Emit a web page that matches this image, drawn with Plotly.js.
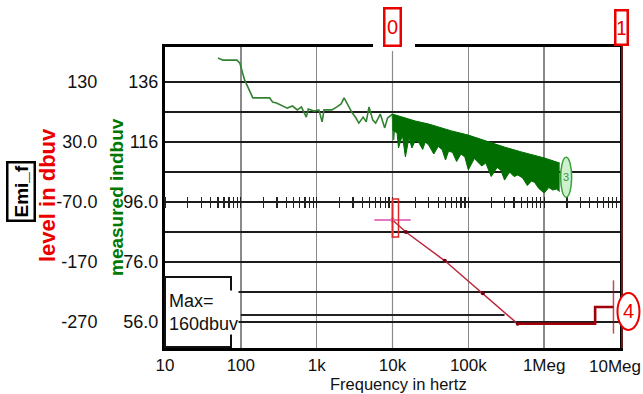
<!DOCTYPE html>
<html>
<head>
<meta charset="utf-8">
<script src="https://cdn.plot.ly/plotly-3.0.1.min.js"></script>
<style>
  html, body { margin: 0; padding: 0; background: #fff; }
  #chart { width: 643px; height: 394px; }
</style>
</head>
<body>
<div id="chart"></div>
<script>
// Measured emission, low-frequency part (Hz, dBuV on the "measured" axis)
const measuredFreq = [50, 58, 89, 97, 112, 144, 240, 263, 295, 410, 480, 555, 630, 730, 775, 925,
  1070, 1180, 1250, 1590, 1850, 2100, 2300, 2500, 2900, 3300, 3600, 4100, 4500, 4900, 5500,
  6000, 6600, 6900, 7900, 8600, 10000, 10300, 11000];
const measuredLevel = [144, 143.3, 143.3, 142.3, 136.7, 130.7, 130.7, 129.3, 129, 127.3, 128, 126.7,
  127.7, 124.3, 127, 126.3, 126.7, 122.7, 126.7, 126.7, 127.7, 128.7, 130.7, 129, 126, 124, 122.3,
  124.3, 122.7, 127.7, 123.3, 122.3, 124.3, 125.3, 120.7, 124, 125.3, 116.7, 124.7];

// Dense high-frequency part: upper and lower envelope of the measured spectrum
const bandTopFreq = [10000, 12000, 15000, 20000, 30000, 40000, 60000, 100000, 200000, 300000,
  500000, 1000000, 1600000];
const bandTopLevel = [125.3, 124.7, 124, 123, 122, 121, 119.7, 118.3, 115.7, 114.3, 112.7, 110.7, 109];
const bandBottomFreq = [10000, 11500, 12000, 13500, 14800, 16500, 18000, 20000, 22000, 25000, 27000,
  30000, 35000, 40000, 45000, 50000, 55000, 62000, 70000, 80000, 90000, 100000, 120000, 150000,
  170000, 200000, 240000, 270000, 300000, 350000, 400000, 450000, 520000, 600000, 680000, 750000,
  850000, 1000000, 1150000, 1300000, 1450000, 1600000];
const bandBottomLevel = [120, 119, 114, 118.3, 111, 117.5, 114, 116.5, 116, 113.5, 116, 115, 112,
  114.5, 113.5, 110, 113, 112.5, 109.5, 112, 111, 106.7, 110.5, 108, 109, 104.5, 107.5, 106.5,
  103.3, 106, 104.5, 105, 104, 101.5, 103, 102.5, 100.5, 99, 100.8, 100, 100.3, 99.5];

// Level in dBuV (red axis): sloped segment and flat segment
const levelSlopeFreq = [10000, 15000, 49000, 155000, 447000];
const levelSlopeValue = [-100, -120, -168, -222, -273];
const levelFlatFreq = [447000, 4700000, 4700000, 8200000];
const levelFlatValue = [-273, -273, -245, -245];

// Leader from the "Max=" box
const leaderFreq = [100, 300000];
const leaderLevel = [58.3, 58.3];

// Cursors
const cursorFreq = [10000, 10000000];
const cursorLabels = ['0', '1'];

// Axis ticks (the last frequency label is placed separately so it stays inside the page)
const freqTicks = [10, 100, 1e3, 1e4, 1e5, 1e6, 1e7];
const freqTickText = ['10', '100', '1k', '10k', '100k', '1Meg', '10Meg'];
const measuredTicks = [56, 66, 76, 86, 96, 106, 116, 126, 136];
const measuredTickText = ['56.0', '', '76.0', '', '96.0', '', '116', '', '136'];
const levelTicks = [-270, -170, -70, 30, 130];
const levelTickText = ['-270', '-170', '-70.0', '30.0', '130'];
const minorMultipliers = [1, 2, 3, 4, 5, 6, 7, 8, 9];

const minorFreqTicks = [];
for (let d = 1; d < 7; d++) {
  for (const m of minorMultipliers) minorFreqTicks.push(m * Math.pow(10, d));
}

// Plot-area geometry helpers (pixels -> paper fractions)
const W = 620, H = 301, TOP = 47;
const px = (x) => x / W;
const py = (y) => (TOP + H - y) / H;

const FONT = 'Liberation Sans, Arial, sans-serif';
const GREEN = 'rgb(0,120,0)';
const RED = 'rgb(235,0,0)';

const xDomain = [px(165), 1];
const xRange = [1, 7];
const levelRange = [-313.33, 188.33];

// data -> paper helpers for marks that sit partly outside the plot area
const freqToPaper = (f) => xDomain[0] + (Math.log10(f) - xRange[0]) / (xRange[1] - xRange[0]) * (xDomain[1] - xDomain[0]);
const levelToPaper = (v) => (v - levelRange[0]) / (levelRange[1] - levelRange[0]);

const bandEndFreq = bandTopFreq[bandTopFreq.length - 1];
const bandEndLevel = (bandTopLevel[bandTopLevel.length - 1] + bandBottomLevel[bandBottomLevel.length - 1]) / 2;
const levelEndFreq = levelFlatFreq[levelFlatFreq.length - 1];
const levelEndValue = levelFlatValue[levelFlatValue.length - 1];

const lastTick = freqTicks.length - 1;
const axisTickText = freqTickText.map((t, i) => (i === lastTick ? '' : t));

const traces = [
  {
    x: measuredFreq, y: measuredLevel, xaxis: 'x', yaxis: 'y',
    mode: 'lines', line: { color: 'rgb(50,130,50)', width: 1.6 }
  },
  {
    x: bandTopFreq, y: bandTopLevel, xaxis: 'x', yaxis: 'y',
    mode: 'lines', line: { color: 'rgb(0,110,0)', width: 1 }
  },
  {
    x: bandBottomFreq, y: bandBottomLevel, xaxis: 'x', yaxis: 'y',
    mode: 'lines', fill: 'tonexty', fillcolor: 'rgb(0,110,0)',
    line: { color: 'rgb(0,110,0)', width: 1 }
  },
  {
    x: leaderFreq, y: leaderLevel, xaxis: 'x', yaxis: 'y',
    mode: 'lines', line: { color: '#222', width: 2 }
  },
  {
    x: levelSlopeFreq, y: levelSlopeValue, xaxis: 'x', yaxis: 'y2',
    mode: 'lines+markers',
    line: { color: 'rgb(190,40,60)', width: 1.5 },
    marker: { color: 'rgb(110,0,20)', size: 4 }
  },
  {
    x: levelFlatFreq, y: levelFlatValue, xaxis: 'x', yaxis: 'y2',
    mode: 'lines+markers',
    line: { color: 'rgb(160,0,10)', width: 2.6 },
    marker: {
      symbol: 'line-ns-open',
      size: levelFlatFreq.map((f, i) => (i === levelFlatFreq.length - 1 ? 38 : 0)),
      line: { color: 'rgb(230,40,40)', width: 1.5 }
    }
  },
  {
    x: [levelSlopeFreq[0]], y: [levelSlopeValue[0]], xaxis: 'x', yaxis: 'y2',
    mode: 'markers',
    marker: { symbol: 'cross-thin-open', size: 26, line: { color: 'rgb(215,0,0)', width: 2 } }
  },
  // empty traces that carry the minor tick axes
  { x: [], y: [], xaxis: 'x2', yaxis: 'y' },
  { x: [], y: [], xaxis: 'x3', yaxis: 'y' }
];

const minorAxis = (side) => ({
  type: 'log', range: xRange, overlaying: 'x', anchor: 'free',
  position: py(202), side: side,
  showgrid: false, zeroline: false, showline: false,
  tickmode: 'array', tickvals: minorFreqTicks,
  ticktext: minorFreqTicks.map(() => ''),
  ticks: 'outside', ticklen: 5, tickwidth: 1.3, tickcolor: '#222'
});

const layout = {
  width: 643, height: 394,
  margin: { l: 0, r: 643 - W, t: TOP, b: 394 - TOP - H, pad: 0 },
  paper_bgcolor: '#fff', plot_bgcolor: '#fff',
  showlegend: false,
  font: { family: FONT, size: 18, color: '#111' },
  xaxis: {
    type: 'log', range: xRange, domain: xDomain,
    tickmode: 'array', tickvals: freqTicks, ticktext: axisTickText,
    ticks: '',
    showgrid: true, gridcolor: '#8a8a8a', gridwidth: 1.6,
    showline: true, linecolor: '#000', linewidth: 3, mirror: true,
    zeroline: false, tickfont: { size: 17 }
  },
  xaxis2: minorAxis('bottom'),
  xaxis3: minorAxis('top'),
  yaxis: {
    range: [47.33, 147.67], domain: [0, 1], anchor: 'x',
    tickmode: 'array', tickvals: measuredTicks, ticktext: measuredTickText,
    ticks: '',
    showgrid: true, gridcolor: '#1c1c1c', gridwidth: 2.6,
    showline: true, linecolor: '#000', linewidth: 3, mirror: true,
    zeroline: false, tickfont: { size: 18 }
  },
  yaxis2: {
    range: levelRange, overlaying: 'y', anchor: 'free', position: px(103), side: 'left',
    tickmode: 'array', tickvals: levelTicks, ticktext: levelTickText,
    ticks: 'outside', ticklen: 2, tickcolor: 'rgba(0,0,0,0)',
    showgrid: false, zeroline: false, showline: false, tickfont: { size: 18 }
  },
  shapes: [
    // cursor 0 (data-positioned) and cursor 1 at the right edge
    { type: 'line', xref: 'x', yref: 'paper', x0: cursorFreq[0], x1: cursorFreq[0], y0: 0, y1: 1,
      line: { color: 'rgba(230,60,60,0.75)', width: 1.2 }, layer: 'between' },
    { type: 'line', xref: 'paper', yref: 'paper', x0: px(622), x1: px(622), y0: 0, y1: py(44),
      line: { color: 'rgba(230,60,60,0.8)', width: 1.2 }, layer: 'above' },
    // gap in the top border behind the cursor-0 label
    { type: 'rect', xref: 'paper', yref: 'paper', x0: px(373), x1: px(415), y0: py(51), y1: py(43),
      fillcolor: '#fff', line: { width: 0 }, layer: 'above' },
    // marker frame around the start of the level line
    { type: 'rect', xref: 'x', yref: 'y2', xsizemode: 'pixel', ysizemode: 'pixel',
      xanchor: levelSlopeFreq[0], yanchor: levelSlopeValue[0], x0: -6, x1: 6, y0: -17, y1: 21,
      line: { color: 'rgb(220,40,40)', width: 1.5 }, layer: 'above' },
    // end markers
    { type: 'circle', xref: 'x', yref: 'y', xsizemode: 'pixel', ysizemode: 'pixel',
      xanchor: bandEndFreq, yanchor: bandEndLevel, x0: 1, x1: 12, y0: -20, y1: 20,
      fillcolor: '#cdf0cd', line: { color: 'rgb(60,160,60)', width: 1.5 }, layer: 'above' },
    { type: 'circle', xref: 'paper', yref: 'paper', xsizemode: 'pixel', ysizemode: 'pixel',
      xanchor: freqToPaper(levelEndFreq), yanchor: levelToPaper(levelEndValue),
      x0: 4, x1: 26, y0: -23, y1: 14,
      fillcolor: '#fff', line: { color: RED, width: 2 }, layer: 'above' },
    // "Max=" box
    { type: 'rect', xref: 'paper', yref: 'paper', x0: px(165), x1: px(231), y0: py(347), y1: py(277),
      fillcolor: '#fff', line: { color: '#111', width: 2 }, layer: 'above' }
  ],
  annotations: [
    { xref: 'x', yref: 'paper', x: Math.log10(cursorFreq[0]), y: py(27), xanchor: 'center', yanchor: 'middle',
      text: cursorLabels[0], showarrow: false, font: { size: 20, color: RED }, bgcolor: '#fff',
      bordercolor: RED, borderwidth: 2.5, borderpad: 1, width: 12, height: 33 },
    { xref: 'paper', yref: 'paper', x: px(621), y: py(27), xanchor: 'center', yanchor: 'middle',
      text: cursorLabels[1], showarrow: false, font: { size: 20, color: RED }, bgcolor: '#fff',
      bordercolor: RED, borderwidth: 2.5, borderpad: 1, width: 8, height: 30 },
    { xref: 'x', yref: 'y', x: Math.log10(bandEndFreq), y: bandEndLevel, xshift: 6.5, yshift: 0,
      xanchor: 'center', yanchor: 'middle',
      text: '3', showarrow: false, font: { size: 11, color: 'rgb(60,150,60)' } },
    { xref: 'paper', yref: 'paper', x: freqToPaper(levelEndFreq), y: levelToPaper(levelEndValue),
      xshift: 15, yshift: -4, xanchor: 'center', yanchor: 'middle',
      text: '4', showarrow: false, font: { size: 20, color: RED } },
    // last frequency label, right-aligned against the page edge
    { xref: 'paper', yref: 'paper', x: freqToPaper(freqTicks[lastTick]), xshift: 22, y: py(366),
      xanchor: 'right', yanchor: 'middle', borderpad: 0,
      text: freqTickText[lastTick], showarrow: false, font: { size: 17, color: '#111' } },
    { xref: 'paper', yref: 'paper', x: px(168), y: py(312), xanchor: 'left', yanchor: 'middle',
      align: 'left', text: 'Max=<br>160dbuv', showarrow: false, bgcolor: '#fff', borderpad: 0,
      font: { size: 18, color: '#111' } },
    { xref: 'paper', yref: 'paper', x: px(398), y: py(384), xanchor: 'center', yanchor: 'middle',
      text: 'Frequency in hertz', showarrow: false, borderpad: 0, font: { size: 16.5, color: '#111' } },
    { xref: 'paper', yref: 'paper', x: px(47), y: py(195), xanchor: 'center', yanchor: 'middle', textangle: -90,
      text: '<b>level in dbuv</b>', showarrow: false, font: { size: 22, color: RED } },
    { xref: 'paper', yref: 'paper', x: px(116), y: py(197), xanchor: 'center', yanchor: 'middle', textangle: -90,
      text: '<b>measured indbuv</b>', showarrow: false, font: { size: 19, color: GREEN } },
    { xref: 'paper', yref: 'paper', x: px(21), y: py(192), xanchor: 'center', yanchor: 'middle', textangle: -90,
      text: '<b>Emi_f</b>', showarrow: false, font: { size: 19, color: '#000' },
      bordercolor: '#000', borderwidth: 2.5, borderpad: 2, bgcolor: '#fff' }
  ]
};

Plotly.newPlot('chart', traces, layout, { staticPlot: true, displayModeBar: false });
</script>
</body>
</html>
